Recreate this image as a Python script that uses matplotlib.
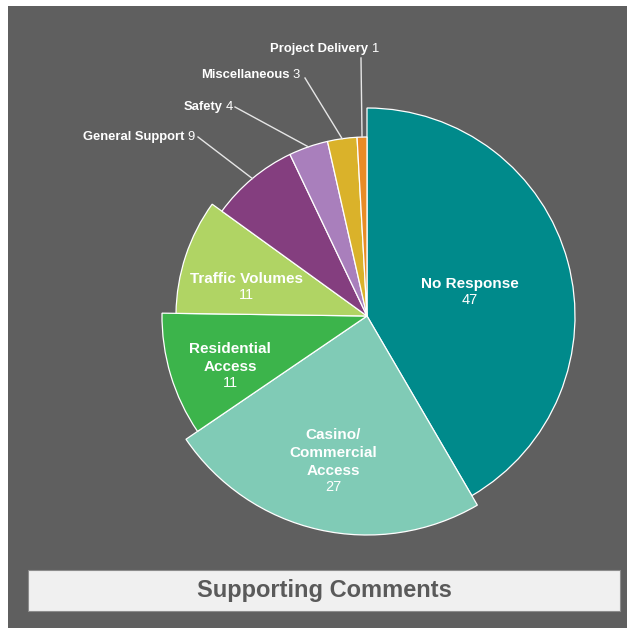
import numpy as np
import matplotlib
matplotlib.use('Agg')
import matplotlib.pyplot as plt
from matplotlib.patches import Rectangle
from matplotlib.offsetbox import TextArea, HPacker, AnnotationBbox

plt.rcParams['font.family'] = ['Liberation Sans', 'DejaVu Sans']

# data
categories = ['No Response', 'Casino/\nCommercial\nAccess', 'Residential\nAccess',
              'Traffic Volumes', 'General Support', 'Safety', 'Miscellaneous',
              'Project Delivery']
counts = [47, 27, 11, 11, 9, 4, 3, 1]
title = 'Supporting Comments'

# styles / layout (pixel units, y measured from top)
colors = ['#008a8b', '#80cbb6', '#3cb44b', '#b0d464',
          '#843e7f', '#a97fbc', '#dab22a', '#e88b26']
radii = [208, 219, 205, 191, 179, 179, 179, 179]
W, H = 627, 628
cx, cy = 367, 316
inner_pos = [(470, 292), (333, 479), (230, 375), (246, 287)]
outer_end = [(198, 137), (235, 107), (305, 78), (361, 58)]
outer_txt = [(195, 137), (233, 107), (300, 75), (324, 49)]

fig = plt.figure(figsize=(W / 100, H / 100), dpi=100)
fig.patch.set_facecolor('white')
ax = fig.add_axes([0, 0, 1, 1])

# dark panel
ax.add_patch(Rectangle((8, 0), W - 8, H - 6, facecolor='#5f5f5f',
                       edgecolor='none', zorder=0))

wedges, _ = ax.pie(counts, colors=colors, startangle=90, counterclock=False,
                   center=(cx, H - cy), radius=1,
                   wedgeprops=dict(edgecolor='white', linewidth=0.9, zorder=2))
for w, r in zip(wedges, radii):
    w.set_radius(r)

ax.set_xlim(0, W)
ax.set_ylim(0, H)
ax.set_aspect('auto')
ax.axis('off')

# labels inside the big slices
for i in range(4):
    x, y = inner_pos[i]
    ax.text(x, H - y + 1, categories[i], ha='center', va='bottom',
            fontsize=11, fontweight='bold', color='white', linespacing=1.38,
            zorder=3)
    ax.text(x, H - y - 1, str(counts[i]), ha='center', va='top',
            fontsize=10.5, color='white', zorder=3)

# labels with leader lines for the small slices
for k, i in enumerate(range(4, 8)):
    w = wedges[i]
    mid = np.deg2rad((w.theta1 + w.theta2) / 2)
    ax0 = cx + radii[i] * np.cos(mid)
    ay0 = (H - cy) + radii[i] * np.sin(mid)
    ex, ey = outer_end[k]
    ax.plot([ax0, ex], [ay0, H - ey], color='#e6e6e6', lw=1.0, zorder=3)
    name = TextArea(categories[i], textprops=dict(fontsize=9.4, fontweight='bold',
                                                  color='white'))
    val = TextArea(str(counts[i]), textprops=dict(fontsize=9.4, color='white'))
    pack = HPacker(children=[name, val], sep=2.5, pad=0, align='baseline')
    tx, ty = outer_txt[k]
    align = (0.5, 0.5) if i == 7 else (1, 0.5)
    ab = AnnotationBbox(pack, (tx, H - ty), xycoords='data', frameon=False,
                        box_alignment=align, pad=0, zorder=4)
    ax.add_artist(ab)

# title box
ax.add_patch(Rectangle((28, H - 611), 592, 41, facecolor='#f0f0f0',
                       edgecolor='#8c8c8c', linewidth=0.8, zorder=2))
ax.text(324, H - 590, title, ha='center', va='center', fontsize=17,
        fontweight='bold', color='#5a5a5a', zorder=3)

fig.savefig('out.png', dpi=100, facecolor=fig.get_facecolor())
